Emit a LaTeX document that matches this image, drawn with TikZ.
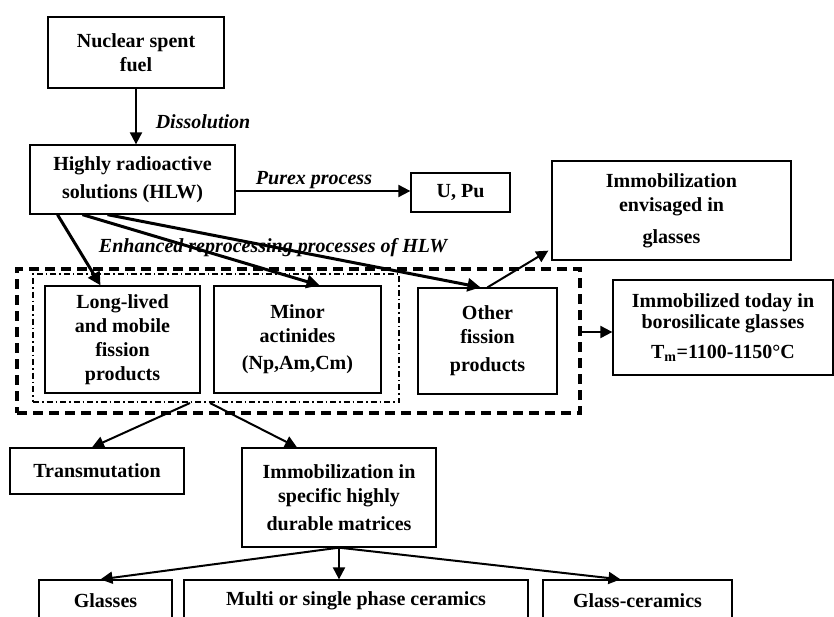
\documentclass[tikz,border=0pt]{standalone}
\usepackage{fontspec}
\setmainfont{Liberation Serif}
\usetikzlibrary{arrows.meta}
\begin{document}
\begin{tikzpicture}[x=1pt,y=-1pt,
    wastebox/.style={shape=rectangle,draw,line width=1.3pt,inner sep=0pt,align=center,font=\bfseries\fontsize{20}{24}\selectfont},
    steplabel/.style={font=\bfseries\itshape\fontsize{20}{24}\selectfont},
    flow/.style={line width=2pt,-{Triangle[length=12pt,width=12pt]}},
    bigflow/.style={line width=3pt,-{Triangle[length=13pt,width=13pt]}}]
    \path[use as bounding box,clip] (0,0) rectangle (834,616);
    \node[wastebox,minimum width=176pt,minimum height=71pt]  (fuel)      at (136,52.5)    {Nuclear spent\\fuel};
    \node[wastebox,minimum width=205pt,minimum height=69pt]  (hlw)       at (132.5,179.5) {Highly radioactive\\[4pt]solutions (HLW)};
    \node[wastebox,minimum width=99pt,minimum height=39pt]   (upu)       at (460.5,192.5) {U, Pu};
    \node[wastebox,minimum width=239pt,minimum height=99pt]  (envis)     at (671.5,210.5) {Immobilization\\envisaged in\\[8pt]glasses};
    \node[steplabel] (dissolve) at (203,122) {Dissolution};
    \node[steplabel] (purex)    at (314,180) {Purex process};
    \node[steplabel] (enhanced) at (273,248) {Enhanced reprocessing processes of HLW};
    \node[shape=rectangle,draw,line width=3.5pt,dash pattern=on 10pt off 6pt,minimum width=563pt,minimum height=144pt] (reprobox) at (298.5,341) {};
    \node[shape=rectangle,draw,line width=2pt,dash pattern=on 6pt off 3pt on 1.5pt off 3pt,minimum width=366pt,minimum height=128pt] (sepbox) at (216,338) {};
    \node[wastebox,minimum width=155pt,minimum height=107pt] (longlived) at (122.5,339.5) {Long-lived\\and mobile\\fission\\products};
    \node[wastebox,minimum width=167pt,minimum height=107pt] (minor)     at (297.5,339.5) {Minor\\actinides\\[3pt](Np,Am,Cm)};
    \node[wastebox,minimum width=139pt,minimum height=106pt] (other)     at (487.5,341)   {Other\\fission\\[4pt]products};
    \node[wastebox,minimum width=220pt,minimum height=95pt]  (today)     at (723,327.5)   {Immobilized today in\\[-3pt]borosilicate glas\kern1.5pt ses\\[6pt]T\textsubscript{m}=1100-1150°C};
    \node[wastebox,minimum width=174pt,minimum height=46pt]  (transm)    at (97,471)      {Transmutation};
    \node[wastebox,minimum width=194pt,minimum height=99pt]  (specific)  at (339,497.5)   {Immobilization in\\specific highly\\[4pt]durable matrices};
    \node[wastebox,minimum width=133pt,minimum height=42pt]  (glasses)   at (105.5,601)   {Glasses};
    \node[wastebox,minimum width=344pt,minimum height=42pt]  (multi)     at (356,601)     {Multi or single phase ceramics};
    \node[wastebox,minimum width=189pt,minimum height=42pt]  (glassceram) at (637.5,601)  {Glass-ceramics};
    \draw[flow] (fuel.south) -- (fuel.south |- hlw.north);
    \draw[flow] ([yshift=-11.5pt]hlw.east) -- ([yshift=1.5pt]upu.west);
    \draw[bigflow] ([xshift=-75pt]hlw.south) -- ([xshift=-22pt]longlived.north);
    \draw[bigflow] ([xshift=-50pt]hlw.south) -- ([xshift=22pt]minor.north);
    \draw[bigflow] ([xshift=-25pt]hlw.south) -- ([xshift=-7pt]other.north);
    \draw[flow] (other.north) -- ([xshift=-3pt,yshift=10pt]envis.south west);
    \draw[flow] ([yshift=9pt]reprobox.east) -- ([yshift=-4.5pt]today.west);
    \draw[flow] ([xshift=-26pt]sepbox.south) -- ([xshift=-5pt]transm.north);
    \draw[flow] ([xshift=-6pt]sepbox.south) -- ([xshift=-42pt]specific.north);
    \draw[flow] (specific.south) -- ([xshift=-5pt]glasses.north);
    \draw[flow] (specific.south) -- (specific.south |- multi.north);
    \draw[flow] (specific.south) -- ([xshift=-17pt]glassceram.north);
\end{tikzpicture}
\end{document}
